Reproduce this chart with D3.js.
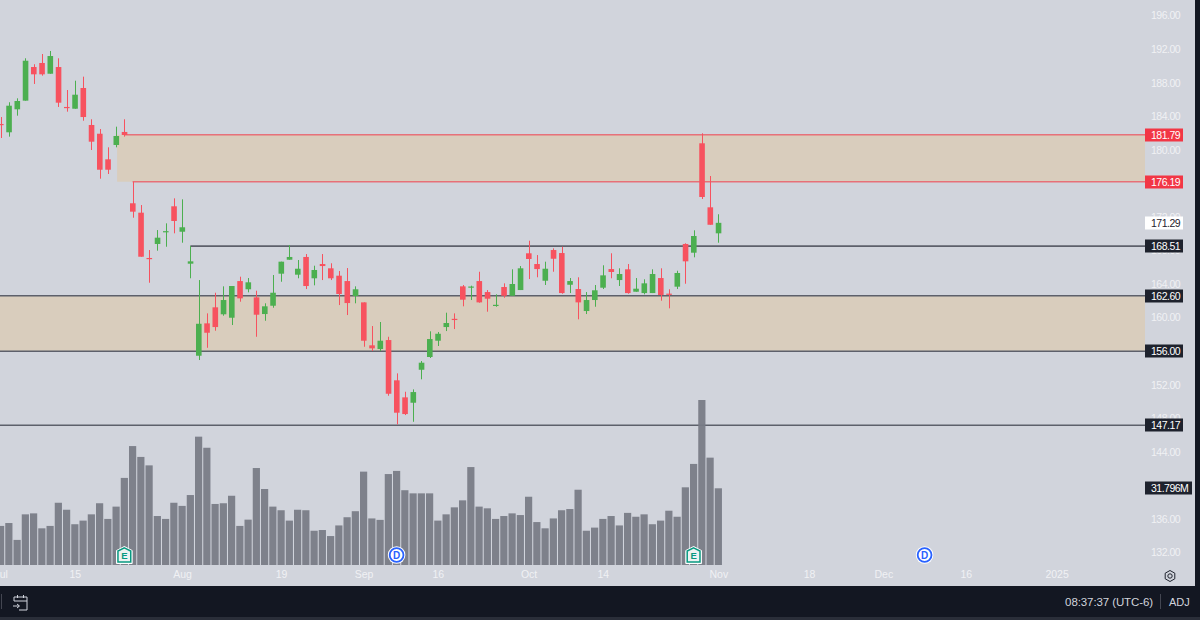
<!DOCTYPE html>
<html>
<head>
<meta charset="utf-8">
<title>Daily candlestick chart with supply and demand zones</title>
<script src="https://cdnjs.cloudflare.com/ajax/libs/d3/7.8.5/d3.min.js"></script>
<style>
  html, body { margin: 0; padding: 0; background: #131722; overflow: hidden; }
  svg { display: block; }
  text { font-family: "Liberation Sans", Roboto, sans-serif; }
</style>
</head>
<body>
<svg id="chart" width="1200" height="620"></svg>
<script>
// Daily sessions, numbered from 1 July
const opens = [183.07,182.08,184.82,185.85,189.86,190.34,189.06,189.86,185.10,184.89,187.36,182.95,181.91,178.86,180.57,182.12,173.62,172.50,167.10,168.77,170.20,173.26,170.23,166.42,155.45,159.31,161.22,160.39,159.98,164.35,163.37,162.41,160.42,161.41,165.23,166.89,165.11,167.22,164.68,166.38,165.87,164.99,164.35,162.57,161.81,156.69,156.25,157.32,152.52,150.49,149.85,153.78,155.30,157.24,158.87,159.85,163.72,163.60,164.35,163.04,161.45,163.64,162.60,163.28,167.66,166.38,164.39,168.05,167.69,163.91,163.40,160.78,162.09,163.56,165.78,164.47,165.75,163.08,162.92,162.92,164.71,162.85,163.68,168.77,167.73,180.77,173.14,170.04];
const highs = [183.90,185.66,186.13,190.90,190.19,191.41,191.77,190.90,187.12,188.23,188.71,183.63,182.47,180.29,182.75,183.63,176.19,173.41,168.05,170.43,171.23,174.21,174.09,168.53,164.47,160.50,162.96,163.72,163.76,164.87,164.71,163.20,161.70,165.07,166.66,168.65,166.86,167.57,166.18,167.57,166.47,165.55,165.90,163.72,161.81,158.99,159.47,157.71,153.35,151.16,151.44,154.82,158.36,158.28,160.58,160.50,163.88,163.80,165.46,163.28,162.77,164.08,165.75,166.14,169.16,167.45,166.66,168.25,168.44,164.71,164.80,163.04,163.88,166.23,167.66,165.87,166.38,164.71,164.56,165.75,165.87,163.37,165.58,168.85,170.40,181.96,176.87,172.31];
const lows = [181.40,181.56,184.06,185.85,187.84,188.83,189.06,185.10,184.54,184.89,183.46,179.97,176.55,177.11,180.29,181.56,171.90,167.25,164.15,167.97,168.44,170.04,168.92,164.68,154.94,156.40,158.43,160.22,159.11,161.89,163.01,157.71,159.62,161.17,164.27,166.89,164.68,163.40,163.84,164.47,164.47,161.49,160.30,161.70,156.52,156.01,156.01,150.68,147.27,148.38,147.58,152.64,155.18,156.61,158.39,158.63,161.34,162.09,161.77,160.70,161.29,162.36,162.60,163.28,164.59,164.80,163.88,165.46,162.84,162.92,159.79,160.42,161.29,163.40,164.68,163.76,162.84,163.08,162.77,162.92,162.01,161.10,163.40,164.03,167.18,174.13,171.06,168.92];
const closes = [183.00,185.25,185.81,190.61,188.99,188.99,191.17,185.61,185.03,186.56,183.90,180.96,177.62,177.62,181.64,181.76,172.62,167.25,167.00,169.52,170.30,171.51,170.76,166.70,159.26,158.19,158.87,162.09,163.76,162.29,164.20,160.34,161.34,162.96,166.66,167.22,165.82,163.76,165.67,166.14,164.68,162.81,161.73,163.37,157.24,156.33,157.24,150.92,148.66,148.50,151.12,154.62,157.44,158.07,159.35,159.75,162.13,163.70,161.81,162.25,161.52,162.60,164.00,165.87,166.98,165.78,165.82,167.01,162.92,164.35,161.81,162.09,163.25,165.03,165.43,165.19,162.92,163.44,164.08,165.19,162.69,162.75,165.31,166.70,169.72,174.37,171.06,171.29];
const volumes = [16.2,17.4,10.4,21.0,21.4,15.2,16.2,25.8,22.9,16.9,18.4,21.0,25.6,19.1,24.2,36.1,49.3,44.8,41.3,20.3,19.1,25.8,24.5,29.0,53.2,48.6,25.3,25.6,28.7,16.2,18.8,40.2,31.5,24.2,22.7,18.4,22.9,22.7,14.2,14.5,12.0,16.4,19.8,22.3,38.7,19.3,18.7,37.7,39.0,31.0,29.7,29.7,29.7,18.4,21.0,23.9,26.8,40.6,24.2,23.5,19.1,20.3,21.4,20.7,28.3,17.8,15.2,19.3,22.7,23.2,31.2,14.2,15.5,19.1,20.3,16.4,21.6,20.0,21.0,16.9,18.4,22.5,20.0,32.2,41.9,68.4,44.5,31.796];

// Time axis: session number of each labelled date, future sessions included
const timeTickSessions = [0, 9, 22, 34, 44, 53, 64, 73, 87, 98, 107, 117, 128];
const timeTickLabels = ["Jul", "15", "Aug", "19", "Sep", "16", "Oct", "14", "Nov", "18", "Dec", "16", "2025"];

// Price axis; the round prices sitting under a level tag are left out
const priceTicks = [132,136,144,148,152,160,164,168,172,180,184,188,192,196];

// Horizontal levels: value, first session of the line, colour family, weight
const levelValues = [181.79, 176.19, 168.51, 162.60, 156.00, 147.17];
const levelStarts = [15, 16, 23, -1, -1, -1];
const levelKinds = ["red", "red", "dark", "dark", "dark", "dark"];
const levelWeights = [1.5, 1.5, 1.8, 1.5, 1.5, 1.5];

// Shaded zones between two levels, with their first session
const zoneTops = [181.79, 162.60];
const zoneBottoms = [176.19, 156.00];
const zoneStarts = [14, -1];

// Earnings and dividend markers
const eventSessions = [15, 48, 84, 112];
const eventKinds = ["E", "D", "E", "D"];

const width = 1200, height = 620;
const plotRight = 1145, plotEnd = 1195, volumeBase = 565, footerTop = 586;
const colors = { bg: "#d1d4dc", up: "#4caf50", down: "#f7525f", zone: "#d9cdbd", axis: "#f0f1f4",
                 dark: "#1e222d", bar: "#131722", volume: "#787b86", red: "#f23645", lineDark: "#5d606b",
                 teal: "#089981", blue: "#2962ff", foot: "#d1d4dc" };

const svg = d3.select("#chart");
const x = d3.scaleLinear().domain([0, 128]).range([0.6, 1056.6]);
const y = d3.scaleLinear().domain([132, 196]).range([552.5, 15.5]);
const yVol = d3.scaleLinear().domain([0, 68.4]).range([volumeBase, 400]);

svg.append("rect").attr("width", width).attr("height", height).attr("fill", colors.bg);

// Price zones
svg.append("g").selectAll("rect").data(zoneTops).join("rect")
  .attr("x", (d, i) => zoneStarts[i] < 0 ? 0 : x(zoneStarts[i]) + 1)
  .attr("y", d => y(d))
  .attr("width", (d, i) => plotRight - (zoneStarts[i] < 0 ? 0 : x(zoneStarts[i]) + 1))
  .attr("height", (d, i) => y(zoneBottoms[i]) - y(d))
  .attr("fill", colors.zone);

// Level lines
svg.append("g").selectAll("line").data(levelValues).join("line")
  .attr("x1", (d, i) => levelStarts[i] < 0 ? 0 : x(levelStarts[i]))
  .attr("x2", plotRight)
  .attr("y1", d => y(d)).attr("y2", d => y(d))
  .attr("stroke", (d, i) => levelKinds[i] === "red" ? colors.red : colors.lineDark)
  .attr("stroke-opacity", (d, i) => levelKinds[i] === "red" ? 0.62 : 1)
  .attr("stroke-width", (d, i) => levelWeights[i]);

// Volume histogram
svg.append("g").selectAll("rect").data(volumes).join("rect")
  .attr("x", (d, i) => x(i) - 3.6)
  .attr("y", d => yVol(d))
  .attr("width", 7.2)
  .attr("height", d => volumeBase - yVol(d))
  .attr("fill", colors.volume)
  .attr("fill-opacity", 0.94);

// Candles
const sessions = d3.range(opens.length);
const candleColor = i => closes[i] >= opens[i] ? colors.up : colors.down;
const candles = svg.append("g").selectAll("g").data(sessions).join("g");
candles.append("line")
  .attr("x1", i => Math.round(x(i)) + 0.5).attr("x2", i => Math.round(x(i)) + 0.5)
  .attr("y1", i => y(highs[i])).attr("y2", i => y(lows[i]))
  .attr("stroke", candleColor).attr("stroke-width", 1);
candles.append("rect")
  .attr("x", i => x(i) - 2.6)
  .attr("width", 5.6)
  .attr("y", i => y(Math.max(opens[i], closes[i])))
  .attr("height", i => Math.max(1.2, Math.abs(y(opens[i]) - y(closes[i]))))
  .attr("fill", candleColor);

// Price axis on the right
const priceAxis = d3.axisRight(y).tickValues(priceTicks).tickFormat(d3.format(".2f")).tickSize(0).tickPadding(0);
const priceG = svg.append("g").attr("transform", "translate(1151,0)").call(priceAxis);
priceG.select(".domain").remove();
priceG.selectAll("text").attr("fill", colors.axis).attr("font-size", 10.5).attr("letter-spacing", -0.5)
  .style("font-family", "'Liberation Sans', sans-serif");

// Time axis along the bottom
const timeAxis = d3.axisBottom(x).tickValues(timeTickSessions)
  .tickFormat((d, i) => timeTickLabels[i]).tickSize(0).tickPadding(0);
const timeG = svg.append("g").attr("transform", "translate(0,571)").call(timeAxis);
timeG.select(".domain").remove();
timeG.selectAll("text").attr("fill", colors.axis).attr("font-size", 10.5).attr("font-weight", 500)
  .style("font-family", "'Liberation Sans', sans-serif");

// Value tags on the price scale
function tag(value, label, fill, textFill, w) {
  const cy = value === null ? 488.3 : y(value);
  svg.append("rect").attr("x", plotRight).attr("y", Math.round(cy) - 6.5).attr("width", w).attr("height", 13).attr("fill", fill);
  svg.append("text").attr("x", 1151).attr("y", cy + 0.5).attr("dy", "0.34em")
    .attr("fill", textFill).attr("font-size", 10.5).attr("letter-spacing", -0.5).text(label);
}
levelValues.forEach((v, i) => tag(v, d3.format(".2f")(v),
  levelKinds[i] === "red" ? colors.red : colors.dark, "#ffffff", 38));
tag(closes[closes.length - 1], d3.format(".2f")(closes[closes.length - 1]), "#ffffff", colors.dark, 38);
tag(null, d3.format(".3f")(volumes[volumes.length - 1]) + "M", colors.dark, "#ffffff", 47);

// Earnings and dividend badges
const markY = 555;
const events = svg.append("g").selectAll("g").data(eventSessions).join("g")
  .attr("transform", d => `translate(${x(d)},${markY})`);
events.each(function (d, i) {
  const g = d3.select(this);
  if (eventKinds[i] === "E") {
    g.append("path").attr("d", "M0,-8.5 L7.8,-4.5 L7.8,8.5 L-7.8,8.5 L-7.8,-4.5 Z").attr("fill", "#ffffff").attr("stroke", "#ffffff").attr("stroke-width", 1);
    g.append("path").attr("d", "M0,-7.2 L6.4,-4 L6.4,7 L-6.4,7 L-6.4,-4 Z").attr("fill", "#eef2f2").attr("stroke", colors.teal).attr("stroke-width", 1.5);
    g.append("text").attr("text-anchor", "middle").attr("y", 4).attr("font-size", 9.5).attr("font-weight", 700).attr("fill", colors.teal).text("E");
  } else {
    g.append("circle").attr("r", 8.8).attr("fill", "#ffffff");
    g.append("circle").attr("r", 6.9).attr("fill", "#ffffff").attr("stroke", colors.blue).attr("stroke-width", 1.8);
    g.append("text").attr("text-anchor", "middle").attr("y", 3.6).attr("font-size", 10).attr("font-weight", 700).attr("fill", colors.blue).text("D");
  }
});

// Chart settings gear at the end of the time scale
const gear = svg.append("g").attr("transform", "translate(1170,576)").attr("fill", "none").attr("stroke", "#1e222d").attr("stroke-width", 1);
gear.append("path").attr("d", "M0,-5.5 L4.8,-2.8 L4.8,2.8 L0,5.5 L-4.8,2.8 L-4.8,-2.8 Z");
gear.append("circle").attr("r", 2.2);

// Frame: right edge strip and footer toolbar
svg.append("rect").attr("x", plotEnd).attr("y", 0).attr("width", width - plotEnd).attr("height", height).attr("fill", colors.bar);
svg.append("rect").attr("x", 0).attr("y", footerTop).attr("width", width).attr("height", height - footerTop).attr("fill", colors.bar);
svg.append("rect").attr("x", 0).attr("y", 617).attr("width", width).attr("height", 3).attr("fill", "#2a2e39");

// Toolbar contents
svg.append("rect").attr("x", 1).attr("y", 594).attr("width", 1).attr("height", 15).attr("fill", "#434651");
const cal = svg.append("g").attr("transform", "translate(13,594)").attr("fill", "none").attr("stroke", "#d1d4dc").attr("stroke-width", 1);
cal.append("path").attr("d", "M1,7 V3 H14 V16 H6 M1,7 H14 M4.5,1 V4 M10.5,1 V4 M0,12 H6 M4,10 L6.5,12 L4,14");
svg.append("text").attr("x", 1153).attr("y", 606).attr("text-anchor", "end").attr("fill", colors.foot).attr("font-size", 11.5).attr("letter-spacing", -0.1).text("08:37:37 (UTC-6)");
svg.append("rect").attr("x", 1160).attr("y", 594).attr("width", 1).attr("height", 15).attr("fill", "#434651");
svg.append("text").attr("x", 1169).attr("y", 606).attr("fill", colors.foot).attr("font-size", 11).text("ADJ");
</script>
</body>
</html>
